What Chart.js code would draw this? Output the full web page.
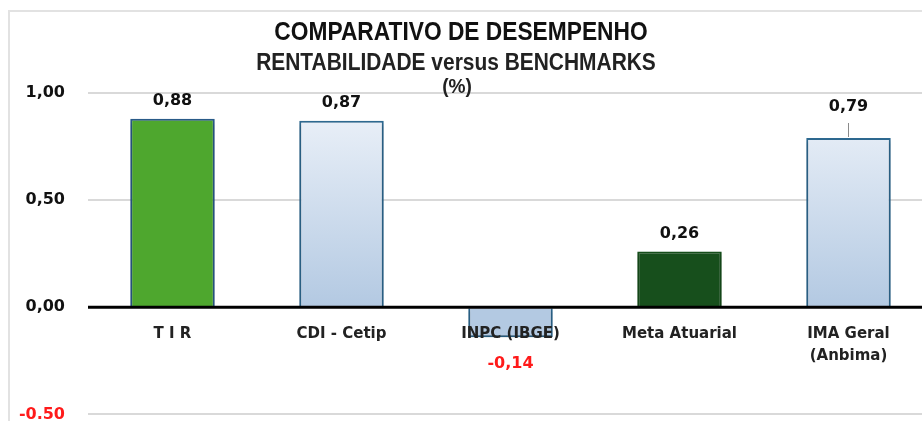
<!DOCTYPE html>
<html>
<head>
<meta charset="utf-8">
<script src="https://cdn.jsdelivr.net/npm/chart.js@4.4.0/dist/chart.umd.min.js"></script>
<style>
  html, body { margin: 0; padding: 0; background: #fff; overflow: hidden; }
  #wrap { position: absolute; left: 0; top: 0; width: 940px; height: 447px; }
</style>
</head>
<body>
<div id="wrap"><canvas id="chart" width="940" height="447"></canvas></div>
<script>
// Data
const categories = [['T I R'], ['CDI - Cetip'], ['INPC (IBGE)'], ['Meta Atuarial'], ['IMA Geral', '(Anbima)']];
const values = [0.88, 0.87, -0.14, 0.26, 0.79];
const valueLabels = ['0,88', '0,87', '-0,14', '0,26', '0,79'];
const yTicks = [-0.5, 0, 0.5, 1.0];
const yTickLabels = ['-0.50', '0,00', '0,50', '1,00'];
const titleLines = ['COMPARATIVO DE DESEMPENHO', 'RENTABILIDADE versus BENCHMARKS', '(%)'];

const NUM_FONT = 'bold 16px "DejaVu Sans", Verdana, sans-serif';
const CAT_FONT = 'bold 15px "DejaVu Sans", Verdana, sans-serif';
const TITLE_FAMILY = '"Liberation Sans", Arial, sans-serif';

// light blue gradient used by the benchmark bars
function blueGradient(ctx) {
    const chart = ctx.chart;
    const area = chart.chartArea;
    if (!area) return '#c9d9eb';
    const y0 = chart.scales.y.getPixelForValue(0);
    const g = chart.ctx.createLinearGradient(0, area.top + 20, 0, y0);
    g.addColorStop(0, '#eaf0f8');
    g.addColorStop(1, '#b3c9e2');
    return g;
}

const barFills = [
    () => '#4ea72e',
    blueGradient,
    blueGradient,
    () => '#174f1c',
    blueGradient
];
const barBorders = ['#2a5c8a', '#2e6a92', '#2e6a92', '#174f1c', '#2e6a92'];

// condensed bold text (the original uses a narrow face)
function narrowText(c, text, x, y, size, color) {
    c.save();
    c.font = 'bold ' + size + 'px ' + TITLE_FAMILY;
    c.fillStyle = color;
    c.textAlign = 'center';
    c.textBaseline = 'alphabetic';
    c.translate(x, y);
    c.scale(0.91, 1);
    c.fillText(text, 0, 0);
    c.restore();
}

// frame, titles, zero line, category and value labels
const decorPlugin = {
    id: 'decor',
    beforeDraw(chart) {
        const c = chart.ctx;
        c.save();
        c.strokeStyle = '#e2e2e2';
        c.lineWidth = 2;
        c.beginPath();
        c.moveTo(9, 447);
        c.lineTo(9, 11);
        c.lineTo(940, 11);
        c.stroke();
        c.restore();
        narrowText(c, titleLines[0], 461, 40, 25, '#111');
        narrowText(c, titleLines[1], 456, 70, 23, '#222');
    },
    beforeDatasetsDraw(chart) {
        const c = chart.ctx;
        c.save();
        c.shadowColor = 'rgba(0,0,0,0.28)';
        c.shadowBlur = 4;
        c.shadowOffsetY = 2;
    },
    afterDatasetsDraw(chart) {
        const c = chart.ctx;
        c.restore();
        const area = chart.chartArea;
        const xs = chart.scales.x;
        const y0 = chart.scales.y.getPixelForValue(0);

        c.save();
        // zero line
        c.strokeStyle = '#000';
        c.lineWidth = 3;
        c.beginPath();
        c.moveTo(area.left, y0);
        c.lineTo(area.right, y0);
        c.stroke();

        // category labels
        c.font = CAT_FONT;
        c.fillStyle = '#222';
        c.textAlign = 'center';
        c.textBaseline = 'middle';
        categories.forEach((lines, i) => {
            const x = xs.getPixelForValue(i);
            lines.forEach((t, k) => c.fillText(t, x, y0 + 27 + k * 22));
        });

        // value labels
        const meta = chart.getDatasetMeta(0);
        c.font = NUM_FONT;
        meta.data.forEach((bar, i) => {
            const v = values[i];
            if (v < 0) {
                c.fillStyle = '#ff1a1a';
                c.textBaseline = 'middle';
                c.fillText(valueLabels[i], bar.x, bar.y + 27);
            } else {
                c.fillStyle = '#111';
                c.textBaseline = 'alphabetic';
                let off = 14;
                if (i === 4) {
                    off = 27;
                    c.strokeStyle = '#8a8a8a';
                    c.lineWidth = 1;
                    c.beginPath();
                    c.moveTo(bar.x, bar.y - 1);
                    c.lineTo(bar.x, bar.y - 15);
                    c.stroke();
                }
                c.fillText(valueLabels[i], bar.x, bar.y - off);
            }
        });
        c.restore();
        narrowText(c, titleLines[2], 457, 93, 21, '#222');
    }
};

new Chart(document.getElementById('chart'), {
    type: 'bar',
    data: {
        labels: categories,
        datasets: [{
            data: values,
            backgroundColor: (ctx) => barFills[ctx.dataIndex](ctx),
            borderColor: barBorders,
            borderWidth: 2,
            barPercentage: 1.0,
            categoryPercentage: 0.5
        }]
    },
    options: {
        responsive: false,
        animation: false,
        layout: { padding: { left: 0, right: 7, top: 93, bottom: 27 } },
        plugins: {
            legend: { display: false },
            tooltip: { enabled: false },
            title: { display: false }
        },
        scales: {
            x: {
                display: false
            },
            y: {
                min: -0.5,
                max: 1.0,
                afterBuildTicks(scale) {
                    scale.ticks = yTicks.map(v => ({ value: v }));
                },
                afterFit(scale) {
                    scale.width = 88;
                },
                grid: {
                    color: (ctx) => ctx.tick.value === 0 ? 'rgba(0,0,0,0)' : '#d9d9d9',
                    lineWidth: 2,
                    drawTicks: false
                },
                border: { display: false },
                ticks: {
                    padding: 23,
                    color: (ctx) => ctx.tick.value < 0 ? '#ff1a1a' : '#111',
                    font: { family: '"DejaVu Sans", Verdana, sans-serif', size: 16, weight: 'bold' },
                    callback: (v) => yTickLabels[yTicks.indexOf(v)]
                }
            }
        }
    },
    plugins: [decorPlugin]
});
</script>
</body>
</html>
